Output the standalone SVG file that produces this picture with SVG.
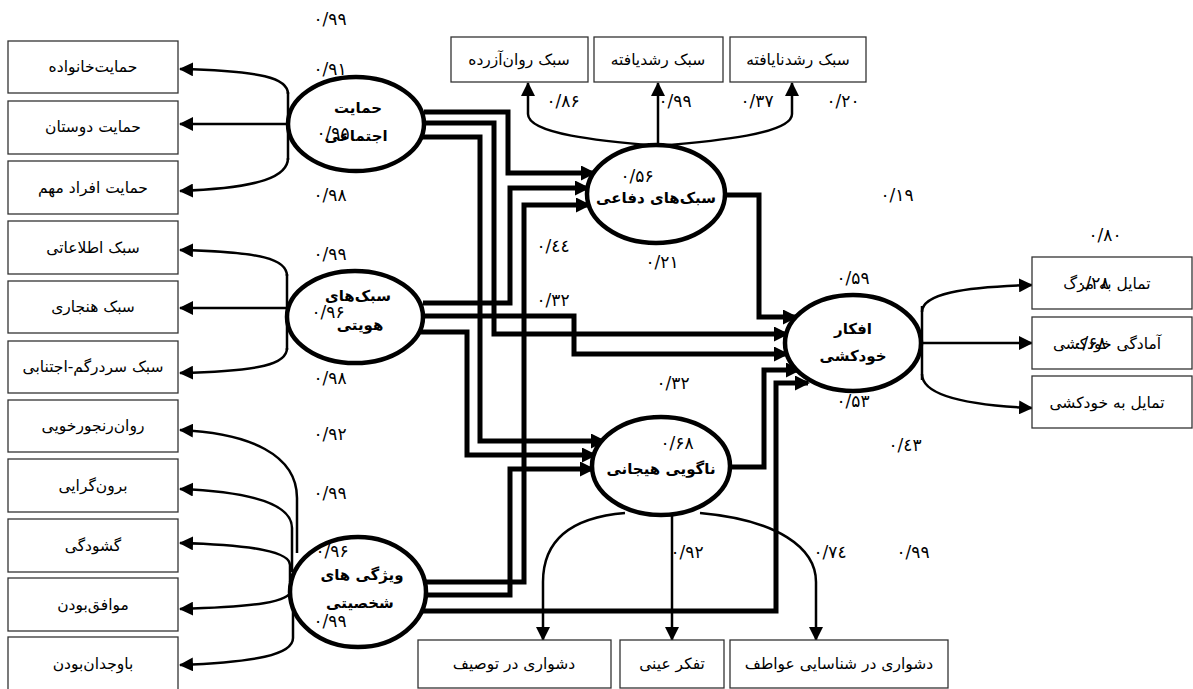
<svg xmlns="http://www.w3.org/2000/svg" width="1193" height="689" viewBox="0 0 1193 689">
<style>
.box{fill:#fff;stroke:#333;stroke-width:1.3}
.bt{font-family:"DejaVu Sans",sans-serif;font-size:15.5px;fill:#000;text-anchor:middle;dominant-baseline:central}
.lv{fill:#fff;stroke:#000;stroke-width:4.5}
.lt{font-family:"DejaVu Sans",sans-serif;font-size:15px;font-weight:bold;fill:#000;text-anchor:middle;dominant-baseline:central}
.n{font-family:"DejaVu Sans",sans-serif;font-size:17px;fill:#000;text-anchor:middle;dominant-baseline:central}
.thin{fill:none;stroke:#000;stroke-width:2.5;marker-end:url(#ah)}
.thk{fill:none;stroke:#000;stroke-width:5;marker-end:url(#ahk)}
.ln{fill:none;stroke:#000;stroke-width:2.5}
</style>
<defs>
<marker id="ah" markerUnits="userSpaceOnUse" markerWidth="14" markerHeight="14" viewBox="0 0 14 14" refX="13" refY="7" orient="auto"><path d="M0,0 L14,7 L0,14 z" fill="#000"/></marker>
<marker id="ahk" markerUnits="userSpaceOnUse" markerWidth="15" markerHeight="15" viewBox="0 0 15 15" refX="13" refY="7.5" orient="auto"><path d="M0,0 L15,7.5 L0,15 z" fill="#000"/></marker>
</defs>
<rect width="1193" height="689" fill="#fff"/>

<g id="connectors">
<path class="ln" d="M288,92 L288,160"/>
<path class="thin" d="M288,94 C288,78 262,71 180,69"/>
<path class="thin" d="M288,124 L180,124"/>
<path class="thin" d="M288,158 C288,176 262,188 180,191"/>
<path class="ln" d="M287,274 L287,350"/>
<path class="thin" d="M287,276 C287,259 262,252 180,250"/>
<path class="thin" d="M287,308 L180,308"/>
<path class="thin" d="M287,348 C287,364 262,371 180,373"/>
<path class="thin" d="M297,553 L297,498 C297,455 250,433 180,430"/>
<path class="thin" d="M292,572 L292,528 C292,505 255,492 180,489"/>
<path class="thin" d="M290,582 L290,565 C290,552 255,545 180,543"/>
<path class="thin" d="M291,590 C291,602 255,607 180,609"/>
<path class="thin" d="M293,605 L293,638 C293,655 255,662 180,665"/>
<path class="thin" d="M658,146 L658,83"/>
<path class="thin" d="M658,146 C600,141 528,134 528,114 L528,83"/>
<path class="thin" d="M658,146 C716,141 792,134 792,114 L792,83"/>
<path class="thin" d="M625,513 C565,518 543,545 543,582 L543,640"/>
<path class="thin" d="M672,515 L672,640"/>
<path class="thin" d="M700,513 C778,520 816,548 816,582 L816,640"/>
<path class="ln" d="M922,306 L922,380"/>
<path class="thin" d="M922,312 C922,294 962,287 1032,285"/>
<path class="thin" d="M922,343 L1032,343"/>
<path class="thin" d="M922,374 C922,394 962,405 1032,408"/>
<path class="thk" d="M424,112 H508 V173 H594"/>
<path class="thk" d="M424,123 H494 V334 H787"/>
<path class="thk" d="M420,137 H480 V441 H604"/>
<path class="thk" d="M423,303 H510 V188 H588"/>
<path class="thk" d="M424,316 H574 V354 H787"/>
<path class="thk" d="M420,332 H467 V455 H595"/>
<path class="thk" d="M425,582 H524 V205 H589"/>
<path class="thk" d="M426,595 H510 V469 H593"/>
<path class="thk" d="M423,611 H776 V383 H808"/>
<path class="thk" d="M724,195 H759 V317 H796"/>
<path class="thk" d="M730,467 H764 V370 H799"/>
</g>

<g id="n-family"><rect class="box" x="8" y="41" width="170" height="52"/><text class="bt" x="93" y="67">حمایت‌خانواده</text></g>
<g id="n-friends"><rect class="box" x="8" y="101" width="170" height="53"/><text class="bt" x="93" y="127">حمایت دوستان</text></g>
<g id="n-others"><rect class="box" x="8" y="161" width="170" height="53"/><text class="bt" x="93" y="188">حمایت افراد مهم</text></g>
<g id="n-info"><rect class="box" x="8" y="221" width="170" height="53"/><text class="bt" x="93" y="248">سبک اطلاعاتی</text></g>
<g id="n-norm"><rect class="box" x="8" y="281" width="170" height="52"/><text class="bt" x="93" y="307">سبک هنجاری</text></g>
<g id="n-diff"><rect class="box" x="8" y="341" width="170" height="52"/><text class="bt" x="93" y="367">سبک سردرگم-اجتنابی</text></g>
<g id="n-neuro"><rect class="box" x="8" y="400" width="170" height="52"/><text class="bt" x="93" y="426">روان‌رنجورخویی</text></g>
<g id="n-extra"><rect class="box" x="8" y="459" width="170" height="53"/><text class="bt" x="93" y="486">برون‌گرایی</text></g>
<g id="n-open"><rect class="box" x="8" y="519" width="170" height="53"/><text class="bt" x="93" y="546">گشودگی</text></g>
<g id="n-agree"><rect class="box" x="8" y="578" width="170" height="53"/><text class="bt" x="93" y="605">موافق‌بودن</text></g>
<g id="n-consc"><rect class="box" x="8" y="637" width="170" height="54"/><text class="bt" x="93" y="664">باوجدان‌بودن</text></g>

<g id="n-neurotic"><rect class="box" x="451" y="37" width="137" height="45"/><text class="bt" x="519" y="60">سبک روان‌آزرده</text></g>
<g id="n-mature"><rect class="box" x="594" y="37" width="129" height="45"/><text class="bt" x="658" y="60">سبک رشدیافته</text></g>
<g id="n-immature"><rect class="box" x="730" y="37" width="136" height="45"/><text class="bt" x="798" y="60">سبک رشدنایافته</text></g>

<g id="n-wish-death"><rect class="box" x="1032" y="257" width="160" height="52"/><text class="bt" x="1107" y="284">تمایل به مرگ</text><text class="n" x="1093" y="283">۰/۲۸</text></g>
<g id="n-ready"><rect class="box" x="1032" y="317" width="160" height="52"/><text class="bt" x="1107" y="344">آمادگی خودکشی</text><text class="n" x="1090" y="343">۰/۶۸</text></g>
<g id="n-wish-suicide"><rect class="box" x="1032" y="376" width="160" height="52"/><text class="bt" x="1107" y="403">تمایل به خودکشی</text></g>

<g id="n-describe"><rect class="box" x="418" y="640" width="193" height="48"/><text class="bt" x="514" y="664">دشواری در توصیف</text></g>
<g id="n-concrete"><rect class="box" x="620" y="640" width="104" height="48"/><text class="bt" x="672" y="664">تفکر عینی</text></g>
<g id="n-identify"><rect class="box" x="730" y="640" width="218" height="48"/><text class="bt" x="839" y="664">دشواری در شناسایی عواطف</text></g>

<g id="l-social"><ellipse class="lv" cx="356" cy="124" rx="68" ry="47"/><text class="lt" x="358" y="108">حمایت</text><text class="lt" x="356" y="136">اجتماعی</text><text class="n" x="333" y="133">۰/۹۵</text></g>
<g id="l-identity"><ellipse class="lv" cx="355" cy="317" rx="68" ry="46"/><text class="lt" x="358" y="296">سبک‌های</text><text class="lt" x="360" y="325">هویتی</text><text class="n" x="328" y="312">۰/۹۶</text></g>
<g id="l-personality"><ellipse class="lv" cx="358" cy="592" rx="68" ry="55"/><text class="lt" x="362" y="575">ویژگی های</text><text class="lt" x="360" y="603">شخصیتی</text><text class="n" x="332" y="551">۰/۹۶</text><text class="n" x="330" y="621">۰/۹۹</text></g>
<g id="l-defensive"><ellipse class="lv" cx="656" cy="194" rx="69" ry="49"/><text class="n" x="637" y="176">۰/۵۶</text><text class="lt" x="656" y="198">سبک‌های دفاعی</text></g>
<g id="l-suicide"><ellipse class="lv" cx="853" cy="343" rx="68" ry="48"/><text class="lt" x="853" y="329">افکار</text><text class="lt" x="853" y="356">خودکشی</text></g>
<g id="l-alex"><ellipse class="lv" cx="661" cy="466" rx="69" ry="49"/><text class="n" x="677" y="443">۰/۶۸</text><text class="lt" x="661" y="469">ناگویی هیجانی</text></g>

<g id="labels">
<text class="n" x="330" y="19">۰/۹۹</text>
<text class="n" x="330" y="69">۰/۹۱</text>
<text class="n" x="330" y="195">۰/۹۸</text>
<text class="n" x="330" y="254">۰/۹۹</text>
<text class="n" x="330" y="378">۰/۹۸</text>
<text class="n" x="330" y="434">۰/۹۲</text>
<text class="n" x="330" y="493">۰/۹۹</text>
<text class="n" x="563" y="101">۰/۸۶</text>
<text class="n" x="675" y="101">۰/۹۹</text>
<text class="n" x="757" y="101">۰/۳۷</text>
<text class="n" x="843" y="101">۰/۲۰</text>
<text class="n" x="897" y="195">۰/۱۹</text>
<text class="n" x="1105" y="235">۰/۸۰</text>
<text class="n" x="553" y="246">۰/٤٤</text>
<text class="n" x="662" y="262">۰/۲۱</text>
<text class="n" x="853" y="278">۰/۵۹</text>
<text class="n" x="553" y="300">۰/۳۲</text>
<text class="n" x="673" y="383">۰/۳۲</text>
<text class="n" x="853" y="401">۰/۵۳</text>
<text class="n" x="905" y="445">۰/٤۳</text>
<text class="n" x="687" y="552">۰/۹۲</text>
<text class="n" x="830" y="552">۰/۷٤</text>
<text class="n" x="913" y="552">۰/۹۹</text>
</g>
</svg>
